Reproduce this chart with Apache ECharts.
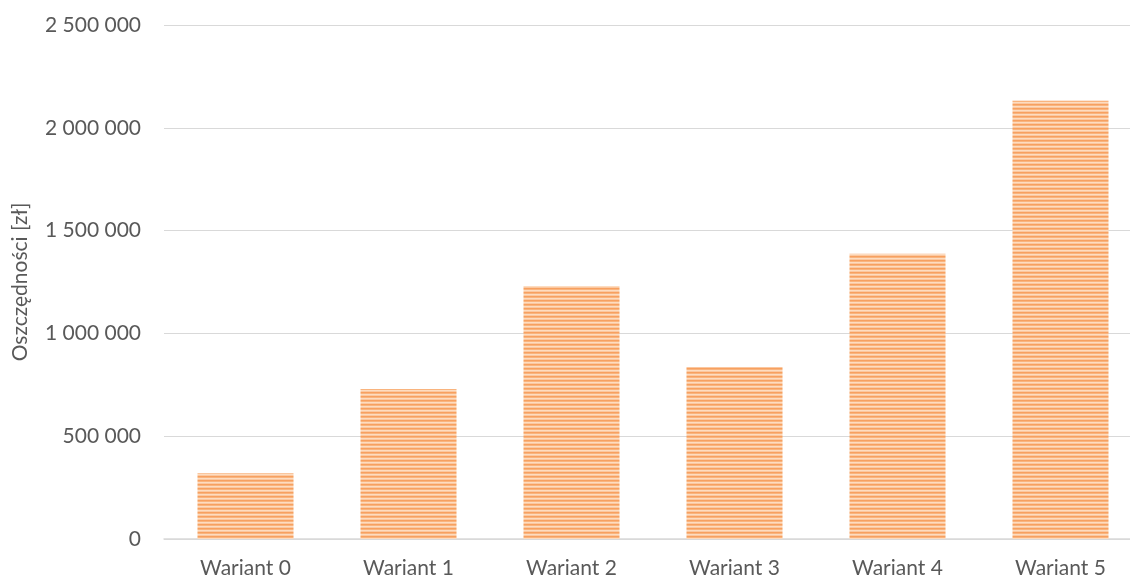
<!DOCTYPE html>
<html>
<head>
<meta charset="utf-8">
<script src="https://cdn.jsdelivr.net/npm/echarts@6/dist/echarts.min.js"></script>
<style>
  html, body { margin: 0; padding: 0; background: #ffffff; overflow: hidden; }
  #chart { width: 1150px; height: 579px; }
</style>
</head>
<body>
<div id="chart"></div>
<script>
// Savings per variant
const categories = ['Wariant 0', 'Wariant 1', 'Wariant 2', 'Wariant 3', 'Wariant 4', 'Wariant 5'];
const savings = [320000, 730000, 1231000, 836000, 1388000, 2132000];
const yMin = 0;
const yMax = 2500000;
const yStep = 500000;
const axisTitle = 'Oszczędności [zł]';

// Horizontal stripe fill for the bars
function stripePattern() {
  const c = document.createElement('canvas');
  c.width = 4;
  c.height = 4;
  const ctx = c.getContext('2d');
  const rows = ['#F7A060', '#F9B47E', '#FDDCC0', '#FBC8A0'];
  rows.forEach((col, i) => {
    ctx.fillStyle = col;
    ctx.fillRect(0, i, 4, 1);
  });
  return c;
}

// Thousands separated by spaces
function fmt(v) {
  return String(v).replace(/\B(?=(\d{3})+(?!\d))/g, ' ');
}

const chart = echarts.init(document.getElementById('chart'), null, { renderer: 'canvas' });
const font = 'Lato, "Open Sans", sans-serif';

chart.setOption({
  animation: false,
  backgroundColor: '#ffffff',
  grid: { left: 164, top: 25, width: 978, bottom: 40, containLabel: false },
  xAxis: {
    type: 'category',
    data: categories,
    axisLine: { show: true, lineStyle: { color: '#d9d9d9', width: 1.5 } },
    axisTick: { show: false },
    axisLabel: { color: '#595959', fontFamily: font, fontSize: 21, margin: 19 }
  },
  yAxis: {
    type: 'value',
    min: yMin,
    max: yMax,
    interval: yStep,
    name: axisTitle,
    nameLocation: 'middle',
    nameGap: 133,
    nameRotate: 90,
    nameTextStyle: { color: '#595959', fontFamily: font, fontSize: 21 },
    axisLine: { show: false },
    axisTick: { show: false },
    splitLine: { lineStyle: { color: '#d9d9d9', width: 1 } },
    axisLabel: { color: '#595959', fontFamily: font, fontSize: 21, margin: 23, formatter: fmt }
  },
  series: [{
    type: 'bar',
    data: savings,
    barWidth: 96,
    itemStyle: { color: { image: stripePattern(), repeat: 'repeat' } }
  }]
});
</script>
</body>
</html>
